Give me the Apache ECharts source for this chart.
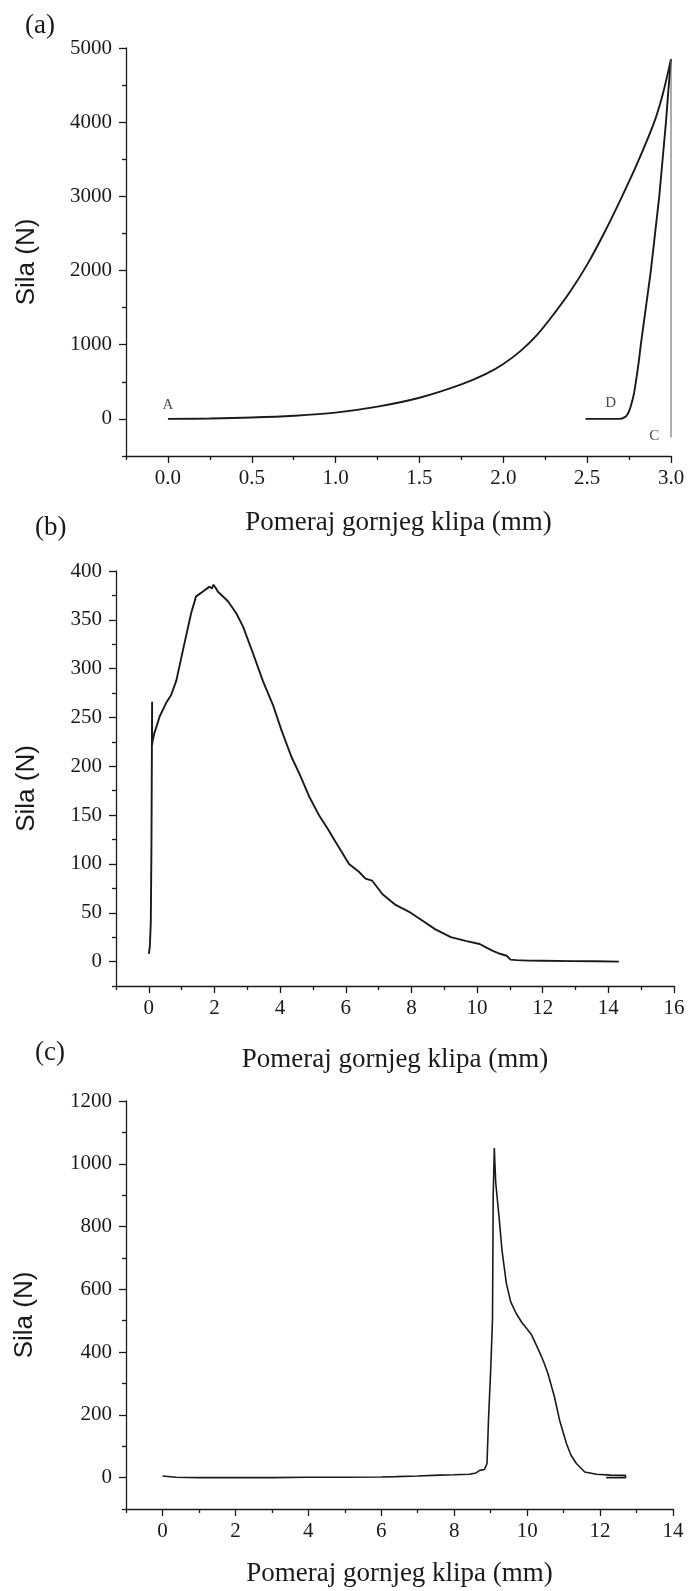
<!DOCTYPE html>
<html>
<head>
<meta charset="utf-8">
<script src="https://cdn.jsdelivr.net/npm/echarts@6/dist/echarts.min.js"></script>
<style>
  html, body { margin: 0; padding: 0; background: #fff; }
  #chart { width: 689px; height: 1591px; }
</style>
</head>
<body>
<div id="chart"></div>
<script>
// (a) loading A→B, unloading along B→C and the reloading branch D→B
const aLoadX   = [0.00, 0.25, 0.50, 0.75, 1.00, 1.25, 1.50, 1.75, 1.90, 2.00, 2.10, 2.20, 2.30, 2.40, 2.50, 2.60, 2.70, 2.80, 2.90, 2.95, 3.00];
const aLoadY   = [0, 5, 18, 42, 85, 165, 285, 465, 610, 740, 910, 1130, 1410, 1720, 2080, 2500, 2960, 3450, 4000, 4370, 4850];
const aReloadX = [2.49, 2.60, 2.69, 2.70, 2.71, 2.72, 2.73, 2.74, 2.75, 2.76, 2.77, 2.78, 2.79, 2.80, 2.81, 2.82, 2.85, 2.88, 2.905, 2.93, 2.95, 2.97, 2.985, 3.00];
const aReloadY = [0, 0, 1, 3, 6, 13, 30, 60, 104, 170, 250, 350, 490, 643, 810, 1000, 1500, 2000, 2500, 3000, 3500, 4000, 4450, 4850];
const aDropX   = [3.00, 3.00];
const aDropY   = [4850, -250];
const aPointNames = ['A', 'B', 'C', 'D'];
const aPointX     = [0.00, 2.98, 2.90, 2.64];
const aPointY     = [190, 5020, -230, 216];
const aXTicks = [0, 0.5, 1, 1.5, 2, 2.5, 3];
const aXMinor = [-0.25, 0.25, 0.75, 1.25, 1.75, 2.25, 2.75];
const aYTicks = [0, 1000, 2000, 3000, 4000, 5000];
const aYMinor = [-500, 500, 1500, 2500, 3500, 4500];

// (b)
const bX = [0.00, 0.03, 0.06, 0.08, 0.10, 0.10, 0.11, 0.17, 0.33, 0.53, 0.68, 0.84, 1.04, 1.29, 1.44, 1.65, 1.85, 1.92, 1.97, 2.03, 2.10, 2.41, 2.66, 2.87, 3.17, 3.48, 3.78, 4.04, 4.34, 4.62, 4.90, 5.20, 5.45, 5.70, 6.10, 6.40, 6.60, 6.80, 7.12, 7.52, 7.93, 8.33, 8.73, 9.20, 9.68, 10.08, 10.30, 10.48, 10.70, 10.90, 11.02, 11.20, 11.56, 12.00, 12.90, 13.60, 14.32];
const bY = [8, 15, 40, 120, 266, 222, 225, 234, 251, 265, 273, 288, 319, 357, 374, 379, 384, 382, 386, 383, 379, 369, 357, 343, 316, 287, 263, 237, 210, 190, 168, 149, 136, 122, 100, 92, 85, 83, 69, 58, 51, 42, 33, 25, 21, 18, 14, 11, 8, 6, 2, 1.5, 1, 0.8, 0.5, 0.3, 0];
const bXTicks = [0, 2, 4, 6, 8, 10, 12, 14, 16];
const bXMinor = [-1, 1, 3, 5, 7, 9, 11, 13, 15];
const bYTicks = [0, 50, 100, 150, 200, 250, 300, 350, 400];
const bYMinor = [-25, 25, 75, 125, 175, 225, 275, 325, 375];

// (c)
const cX = [0.00, 0.37, 1.00, 2.00, 3.00, 4.00, 5.00, 6.00, 6.40, 7.00, 7.60, 8.00, 8.42, 8.60, 8.70, 8.83, 8.90, 8.94, 9.00, 9.05, 9.07, 9.10, 9.12, 9.14, 9.23, 9.31, 9.43, 9.55, 9.70, 9.85, 10.02, 10.12, 10.30, 10.45, 10.57, 10.75, 10.89, 11.08, 11.20, 11.35, 11.58, 11.90, 12.30, 12.70, 12.70, 12.17];
const cY = [5, 1, 0, 0, 0, 1, 1, 2, 3, 5, 8, 9, 10.5, 15, 23, 26, 45, 183, 342, 502, 900, 1050, 990, 938, 831, 725, 619, 560, 523, 495, 470, 455, 410, 370, 332, 257, 183, 108, 72, 45, 18, 10.5, 8, 7, 0, 0];
const cXTicks = [0, 2, 4, 6, 8, 10, 12, 14];
const cXMinor = [-1, 1, 3, 5, 7, 9, 11, 13];
const cYTicks = [0, 200, 400, 600, 800, 1000, 1200];
const cYMinor = [-100, 100, 300, 500, 700, 900, 1100];

const pairs = (xs, ys) => xs.map((x, i) => [x, ys[i]]);

const SERIF = "'Liberation Serif', 'Times New Roman', serif";
const SANS = "'Liberation Sans', Arial, sans-serif";
const INK = '#1a1a1a';

// major axis: line, long ticks, labels; minor axis: short ticks only
function majorAxis(dim, grid, min, max, ticks, opts) {
  const isX = dim === 'x';
  return {
    type: 'value', gridIndex: grid, min: min, max: max,
    position: isX ? 'bottom' : 'left',
    name: opts.name, nameLocation: 'middle', nameGap: opts.nameGap,
    nameTextStyle: opts.nameStyle,
    axisLine: { show: true, onZero: false, lineStyle: { color: INK, width: 1.3 } },
    axisTick: { show: true, inside: false, length: 7, customValues: ticks, lineStyle: { color: INK, width: 1.3 } },
    axisLabel: {
      show: true, customValues: ticks, margin: isX ? 12 : 14,
      fontFamily: SERIF, fontSize: 21, color: INK,
      formatter: opts.fmt || (v => String(v))
    },
    splitLine: { show: false }
  };
}
function minorAxis(dim, grid, min, max, ticks) {
  const isX = dim === 'x';
  return {
    type: 'value', gridIndex: grid, min: min, max: max,
    position: isX ? 'bottom' : 'left',
    axisLine: { show: false, onZero: false },
    axisTick: { show: true, inside: false, length: 4, customValues: ticks, lineStyle: { color: INK, width: 1.3 } },
    axisLabel: { show: false },
    splitLine: { show: false }
  };
}

const xName = 'Pomeraj gornjeg klipa (mm)';
const xNameStyle = { fontFamily: SERIF, fontSize: 27, color: INK };
const yNameStyle = { fontFamily: SANS, fontSize: 26, color: INK, padding: [0, 20, 0, 0] };

const option = {
  backgroundColor: '#ffffff',
  animation: false,
  grid: [
    { left: 126, right: 18, top: 48, height: 408 },
    { left: 116, right: 15, top: 571, height: 415 },
    { left: 126, right: 16, top: 1101, height: 408 }
  ],
  xAxis: [
    majorAxis('x', 0, -0.25, 3, aXTicks, { name: xName, nameGap: 53, nameStyle: xNameStyle, fmt: v => v.toFixed(1) }),
    majorAxis('x', 1, -1, 16, bXTicks, { name: xName, nameGap: 60, nameStyle: xNameStyle }),
    majorAxis('x', 2, -1, 14, cXTicks, { name: xName, nameGap: 51, nameStyle: xNameStyle }),
    minorAxis('x', 0, -0.25, 3, aXMinor),
    minorAxis('x', 1, -1, 16, bXMinor),
    minorAxis('x', 2, -1, 14, cXMinor)
  ],
  yAxis: [
    majorAxis('y', 0, -500, 5000, aYTicks, { name: 'Sila (N)', nameGap: 86, nameStyle: yNameStyle }),
    majorAxis('y', 1, -25, 400, bYTicks, { name: 'Sila (N)', nameGap: 76, nameStyle: yNameStyle }),
    majorAxis('y', 2, -100, 1200, cYTicks, { name: 'Sila (N)', nameGap: 88, nameStyle: yNameStyle }),
    minorAxis('y', 0, -500, 5000, aYMinor),
    minorAxis('y', 1, -25, 400, bYMinor),
    minorAxis('y', 2, -100, 1200, cYMinor)
  ],
  graphic: [
    { type: 'text', left: 25, top: 12, style: { text: '(a)', font: "27px " + SERIF, fill: INK } },
    { type: 'text', left: 35, top: 514, style: { text: '(b)', font: "27px " + SERIF, fill: INK } },
    { type: 'text', left: 35, top: 1039, style: { text: '(c)', font: "27px " + SERIF, fill: INK } }
  ],
  series: [
    {
      type: 'line', xAxisIndex: 0, yAxisIndex: 0, data: pairs(aLoadX, aLoadY),
      showSymbol: false, smooth: 0.35, silent: true,
      lineStyle: { color: INK, width: 1.9 }
    },
    {
      type: 'line', xAxisIndex: 0, yAxisIndex: 0, data: pairs(aReloadX, aReloadY),
      showSymbol: false, silent: true,
      lineStyle: { color: INK, width: 1.9 }
    },
    {
      type: 'line', xAxisIndex: 0, yAxisIndex: 0, data: pairs(aDropX, aDropY),
      showSymbol: false, silent: true,
      lineStyle: { color: '#6a6a6a', width: 1.1 }
    },
    {
      type: 'scatter', xAxisIndex: 0, yAxisIndex: 0, symbolSize: 0, silent: true,
      data: aPointNames.map((n, i) => ({ name: n, value: [aPointX[i], aPointY[i]] })),
      label: { show: true, position: 'inside', formatter: p => p.name, fontFamily: SERIF, fontSize: 15, color: INK }
    },
    {
      type: 'line', xAxisIndex: 1, yAxisIndex: 1, data: pairs(bX, bY),
      showSymbol: false, silent: true,
      lineStyle: { color: INK, width: 1.9 }
    },
    {
      type: 'line', xAxisIndex: 2, yAxisIndex: 2, data: pairs(cX, cY),
      showSymbol: false, silent: true,
      lineStyle: { color: INK, width: 1.6 }
    }
  ]
};

const chart = echarts.init(document.getElementById('chart'), null, { renderer: 'canvas' });
chart.setOption(option);
</script>
</body>
</html>
